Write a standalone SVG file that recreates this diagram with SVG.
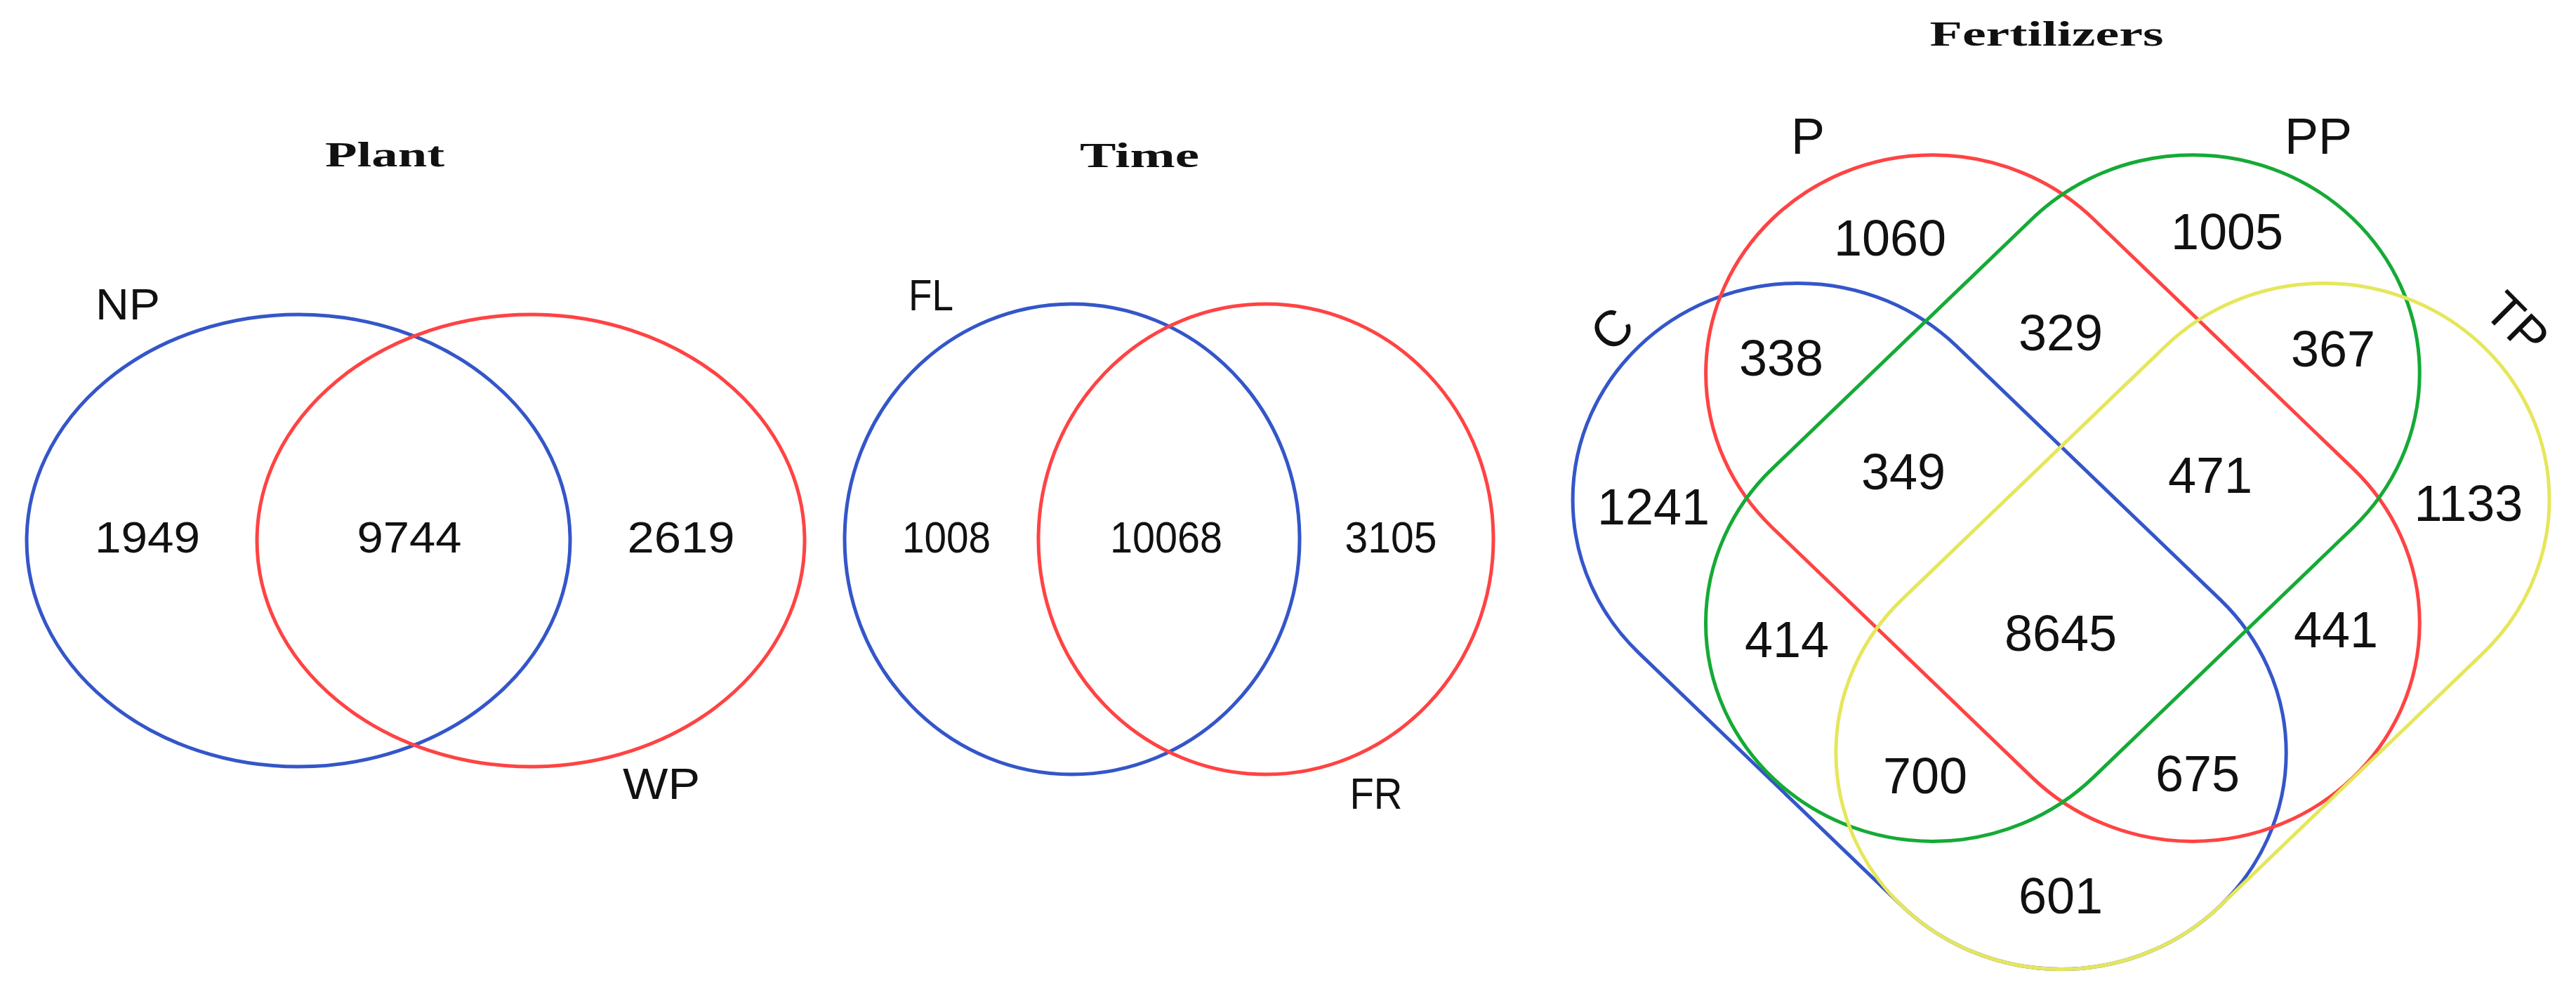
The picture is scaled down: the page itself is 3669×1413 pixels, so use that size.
<svg xmlns="http://www.w3.org/2000/svg" width="3669" height="1413" viewBox="0 0 3669 1413">
<style>
.bg{fill:#ffffff}
.set{fill:none;stroke-width:5}
.cap{fill:none;stroke-width:5;vector-effect:non-scaling-stroke}
.blue{stroke:#3456c9}
.red{stroke:#ff4343}
.green{stroke:#15aa35}
.yellow{stroke:#e6e65c}
.title{font-family:"Liberation Serif","Times New Roman",serif;font-weight:bold;font-size:51px;fill:#111;text-anchor:middle}
.lab{font-family:"Liberation Sans",Arial,Helvetica,sans-serif;font-size:63px;fill:#111;text-anchor:middle}
.num{font-family:"Liberation Sans",Arial,Helvetica,sans-serif;font-size:63px;fill:#111;text-anchor:middle}
.lab4{font-family:"Liberation Sans",Arial,Helvetica,sans-serif;font-size:72px;fill:#111;text-anchor:middle}
.num4{font-family:"Liberation Sans",Arial,Helvetica,sans-serif;font-size:72px;fill:#111;text-anchor:middle}
</style>
<rect class="bg" x="0" y="0" width="3669" height="1413"/>

<!-- Panel 1: Plant -->
<g id="plant">
  <text class="title" x="548" y="237" textLength="170" lengthAdjust="spacingAndGlyphs">Plant</text>
  <g id="set-NP">
    <ellipse class="set blue" cx="425" cy="770" rx="387" ry="322"/>
    <text class="lab" x="182" y="455" textLength="92" lengthAdjust="spacingAndGlyphs">NP</text>
  </g>
  <g id="set-WP">
    <ellipse class="set red" cx="756" cy="770" rx="390" ry="322"/>
    <text class="lab" x="942" y="1138" textLength="110" lengthAdjust="spacingAndGlyphs">WP</text>
  </g>
  <g id="plant-counts">
    <text class="num" x="210" y="787" textLength="150" lengthAdjust="spacingAndGlyphs">1949</text>
    <text class="num" x="583" y="787" textLength="149" lengthAdjust="spacingAndGlyphs">9744</text>
    <text class="num" x="970" y="787" textLength="153" lengthAdjust="spacingAndGlyphs">2619</text>
  </g>
</g>

<!-- Panel 2: Time -->
<g id="time">
  <text class="title" x="1623" y="238" textLength="170" lengthAdjust="spacingAndGlyphs">Time</text>
  <g id="set-FL">
    <ellipse class="set blue" cx="1527" cy="768" rx="324" ry="335"/>
    <text class="lab" x="1326" y="442" textLength="64" lengthAdjust="spacingAndGlyphs">FL</text>
  </g>
  <g id="set-FR">
    <ellipse class="set red" cx="1803" cy="768" rx="324" ry="335"/>
    <text class="lab" x="1960" y="1152" textLength="75" lengthAdjust="spacingAndGlyphs">FR</text>
  </g>
  <g id="time-counts">
    <text class="num" x="1348" y="787" textLength="126" lengthAdjust="spacingAndGlyphs">1008</text>
    <text class="num" x="1661" y="787" textLength="160" lengthAdjust="spacingAndGlyphs">10068</text>
    <text class="num" x="1981" y="787" textLength="131" lengthAdjust="spacingAndGlyphs">3105</text>
  </g>
</g>

<!-- Panel 3: Fertilizers -->
<g id="fertilizers">
  <text class="title" x="2915" y="65" textLength="333" lengthAdjust="spacingAndGlyphs">Fertilizers</text>
  <g transform="translate(2200,0) scale(0.937,0.901)">
    <g id="set-C">
      <path class="cap blue" d="M627,548 L1027,948 A342,342 0 0 1 543,1432 L143,1032 A342,342 0 0 1 627,548 Z"/>
    </g>
    <g id="set-P">
      <path class="cap red" d="M834,346 L1229,741 A345,345 0 0 1 741,1229 L346,834 A345,345 0 0 1 834,346 Z"/>
    </g>
    <g id="set-PP">
      <path class="cap green" d="M741,346 A345,345 0 0 1 1229,834 L834,1229 A345,345 0 0 1 346,741 Z"/>
    </g>
    <g id="set-TP">
      <path class="cap yellow" d="M943,548 A342,342 0 0 1 1427,1032 L1027,1432 A342,342 0 0 1 543,948 Z"/>
    </g>
  </g>
  <g id="fert-labels">
    <text class="lab4" x="2575" y="219">P</text>
    <text class="lab4" x="3302" y="219">PP</text>
    <text class="lab4" transform="translate(2295,468) rotate(-45)" x="0" y="26">C</text>
    <text class="lab4" transform="translate(3586,460) rotate(45)" x="0" y="26">TP</text>
  </g>
  <g id="fert-counts">
    <text class="num4" x="2692" y="364">1060</text>
    <text class="num4" x="3172" y="355">1005</text>
    <text class="num4" x="2935" y="499">329</text>
    <text class="num4" x="2537" y="535">338</text>
    <text class="num4" x="3323" y="522">367</text>
    <text class="num4" x="2711" y="697">349</text>
    <text class="num4" x="3148" y="702">471</text>
    <text class="num4" x="2355" y="747">1241</text>
    <text class="num4" x="3516" y="742">1133</text>
    <text class="num4" x="2935" y="927">8645</text>
    <text class="num4" x="2545" y="936">414</text>
    <text class="num4" x="3327" y="922">441</text>
    <text class="num4" x="2742" y="1130">700</text>
    <text class="num4" x="3130" y="1127">675</text>
    <text class="num4" x="2935" y="1301">601</text>
  </g>
</g>

<g id="connectors"></g>
</svg>
